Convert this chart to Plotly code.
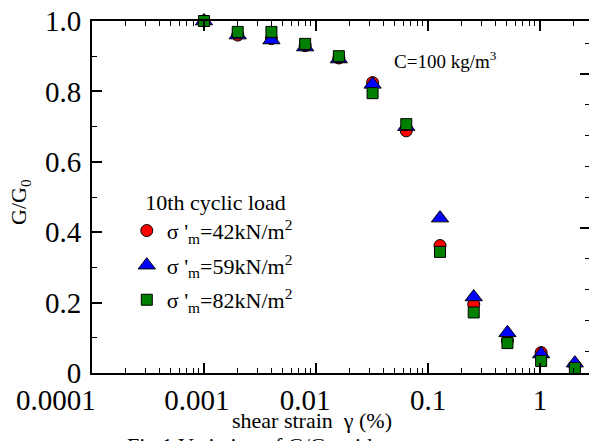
import plotly.graph_objects as go

# strain (%) values
strain = [0.001, 0.002, 0.004, 0.008, 0.016, 0.032, 0.064, 0.128, 0.256, 0.512, 1.024, 2.048]
g42 = [1.00, 0.96, 0.95, 0.93, 0.895, 0.825, 0.688, 0.362, 0.195, 0.092, 0.058, 0.020]
g59 = [1.00, 0.96, 0.946, 0.926, 0.892, 0.82, 0.70, 0.44, 0.216, 0.114, 0.054, 0.028]
g82 = [1.00, 0.969, 0.969, 0.935, 0.90, 0.795, 0.707, 0.344, 0.172, 0.085, 0.034, 0.014]

names = ["σ '<sub>m</sub>=42kN/m<sup>2</sup>",
         "σ '<sub>m</sub>=59kN/m<sup>2</sup>",
         "σ '<sub>m</sub>=82kN/m<sup>2</sup>"]

NB = "\u00a0"
x_tickvals = [1e-4, 1e-3, 1e-2, 1e-1, 1]
x_ticktext = ["0.0001" + NB * 10, "0.001" + NB * 2, "0.01" + NB * 3, "0.1", "1"]
x_minor = [m * 10 ** e for e in range(-4, 1) for m in range(2, 10)]
y_tickvals = [0, 0.2, 0.4, 0.6, 0.8, 1.0]
y_ticktext = ["0", "0.2", "0.4", "0.6", "0.8", "1.0"]

FONT = "Times New Roman, Liberation Serif, serif"

fig = go.Figure()
fig.add_trace(go.Scatter(x=strain, y=g42, mode="markers", name=names[0], legendgroup="a",
                         marker=dict(symbol="circle", size=12, color="#ff0000",
                                     line=dict(color="black", width=1)),
                         cliponaxis=False))
fig.add_trace(go.Scatter(x=strain, y=g59, mode="markers", name=names[1], legendgroup="b",
                         marker=dict(symbol="triangle-up", size=15, color="#0000ff",
                                     line=dict(color="black", width=1)),
                         cliponaxis=False))
fig.add_trace(go.Scatter(x=strain, y=g82, mode="markers", name=names[2], legendgroup="c",
                         marker=dict(symbol="square", size=11, color="#008000",
                                     line=dict(color="black", width=1)),
                         cliponaxis=False))
# invisible trace to activate the right-hand axis
fig.add_trace(go.Scatter(x=[None], y=[None], yaxis="y2", showlegend=False, hoverinfo="skip"))

fig.update_layout(
    width=589, height=441,
    margin=dict(l=92, r=0, t=21, b=68, autoexpand=False),
    paper_bgcolor="white", plot_bgcolor="white",
    font=dict(family=FONT, color="black", size=22),
    showlegend=True,
    legend=dict(x=0.07, y=0.545, xanchor="left", yanchor="top",
                bgcolor="rgba(0,0,0,0)", borderwidth=0,
                font=dict(family=FONT, size=22, color="black"),
                title=dict(text=NB * 3 + "10th cyclic load", font=dict(family=FONT, size=22)),
                tracegroupgap=3, itemsizing="trace"),
    xaxis=dict(type="log", range=[-4, 0.4375], automargin=False, tickangle=0,
               tickmode="array", tickvals=x_tickvals, ticktext=x_ticktext,
               ticks="inside", ticklen=10, tickwidth=1.5, tickcolor="black",
               showline=True, linecolor="black", linewidth=2, mirror="ticks",
               showgrid=False, zeroline=False,
               tickfont=dict(family=FONT, size=29, color="black"),
               minor=dict(tickmode="array", tickvals=x_minor, ticks="inside",
                          ticklen=5, tickwidth=1.2, tickcolor="black", showgrid=False)),
    yaxis=dict(range=[0, 1], tickmode="array", tickvals=y_tickvals, ticktext=y_ticktext,
               automargin=False, tickangle=0,
               ticks="inside", ticklen=10, tickwidth=1.5, tickcolor="black",
               showline=True, linecolor="black", linewidth=2, mirror=False,
               showgrid=False, zeroline=False, ticklabelstandoff=3,
               tickfont=dict(family=FONT, size=29, color="black"),
               minor=dict(dtick=0.1, ticks="inside", ticklen=5, tickwidth=1.2,
                          tickcolor="black", showgrid=False)),
    yaxis2=dict(overlaying="y", side="right", range=[0.58, 23.44], automargin=False,
                tickmode="linear", tick0=0, dtick=10,
                ticks="inside", ticklen=9, tickwidth=1.5, tickcolor="black",
                showticklabels=False, showline=False, showgrid=False, zeroline=False,
                minor=dict(dtick=2, ticks="inside", ticklen=4, tickwidth=1.2,
                           tickcolor="black", showgrid=False)),
    annotations=[
        dict(text="C=100 kg/m<sup>3</sup>", xref="paper", yref="paper",
             x=(392 - 92) / 497, y=(373 - 60) / 352, xanchor="left", yanchor="middle",
             showarrow=False, font=dict(family=FONT, size=19, color="black")),
        dict(text="G/G<sub>0</sub>", xref="paper", yref="paper",
             x=(20 - 92) / 497, y=(373 - 202) / 352, xanchor="center", yanchor="middle",
             textangle=-90, showarrow=False, font=dict(family=FONT, size=22, color="black")),
        dict(text="shear strain  γ (%)", xref="paper", yref="paper",
             x=(312 - 92) / 497, y=(373 - 421) / 352, xanchor="center", yanchor="middle",
             showarrow=False, font=dict(family=FONT, size=22, color="black")),
        dict(text="Fig.1 Variation of G/G<sub>0</sub> with", xref="paper", yref="paper",
             x=(125 - 92) / 497, y=(373 - 431) / 352, xanchor="left", yanchor="top",
             showarrow=False, font=dict(family=FONT, size=22, color="black")),
    ],
)

fig.write_html("out.html")
